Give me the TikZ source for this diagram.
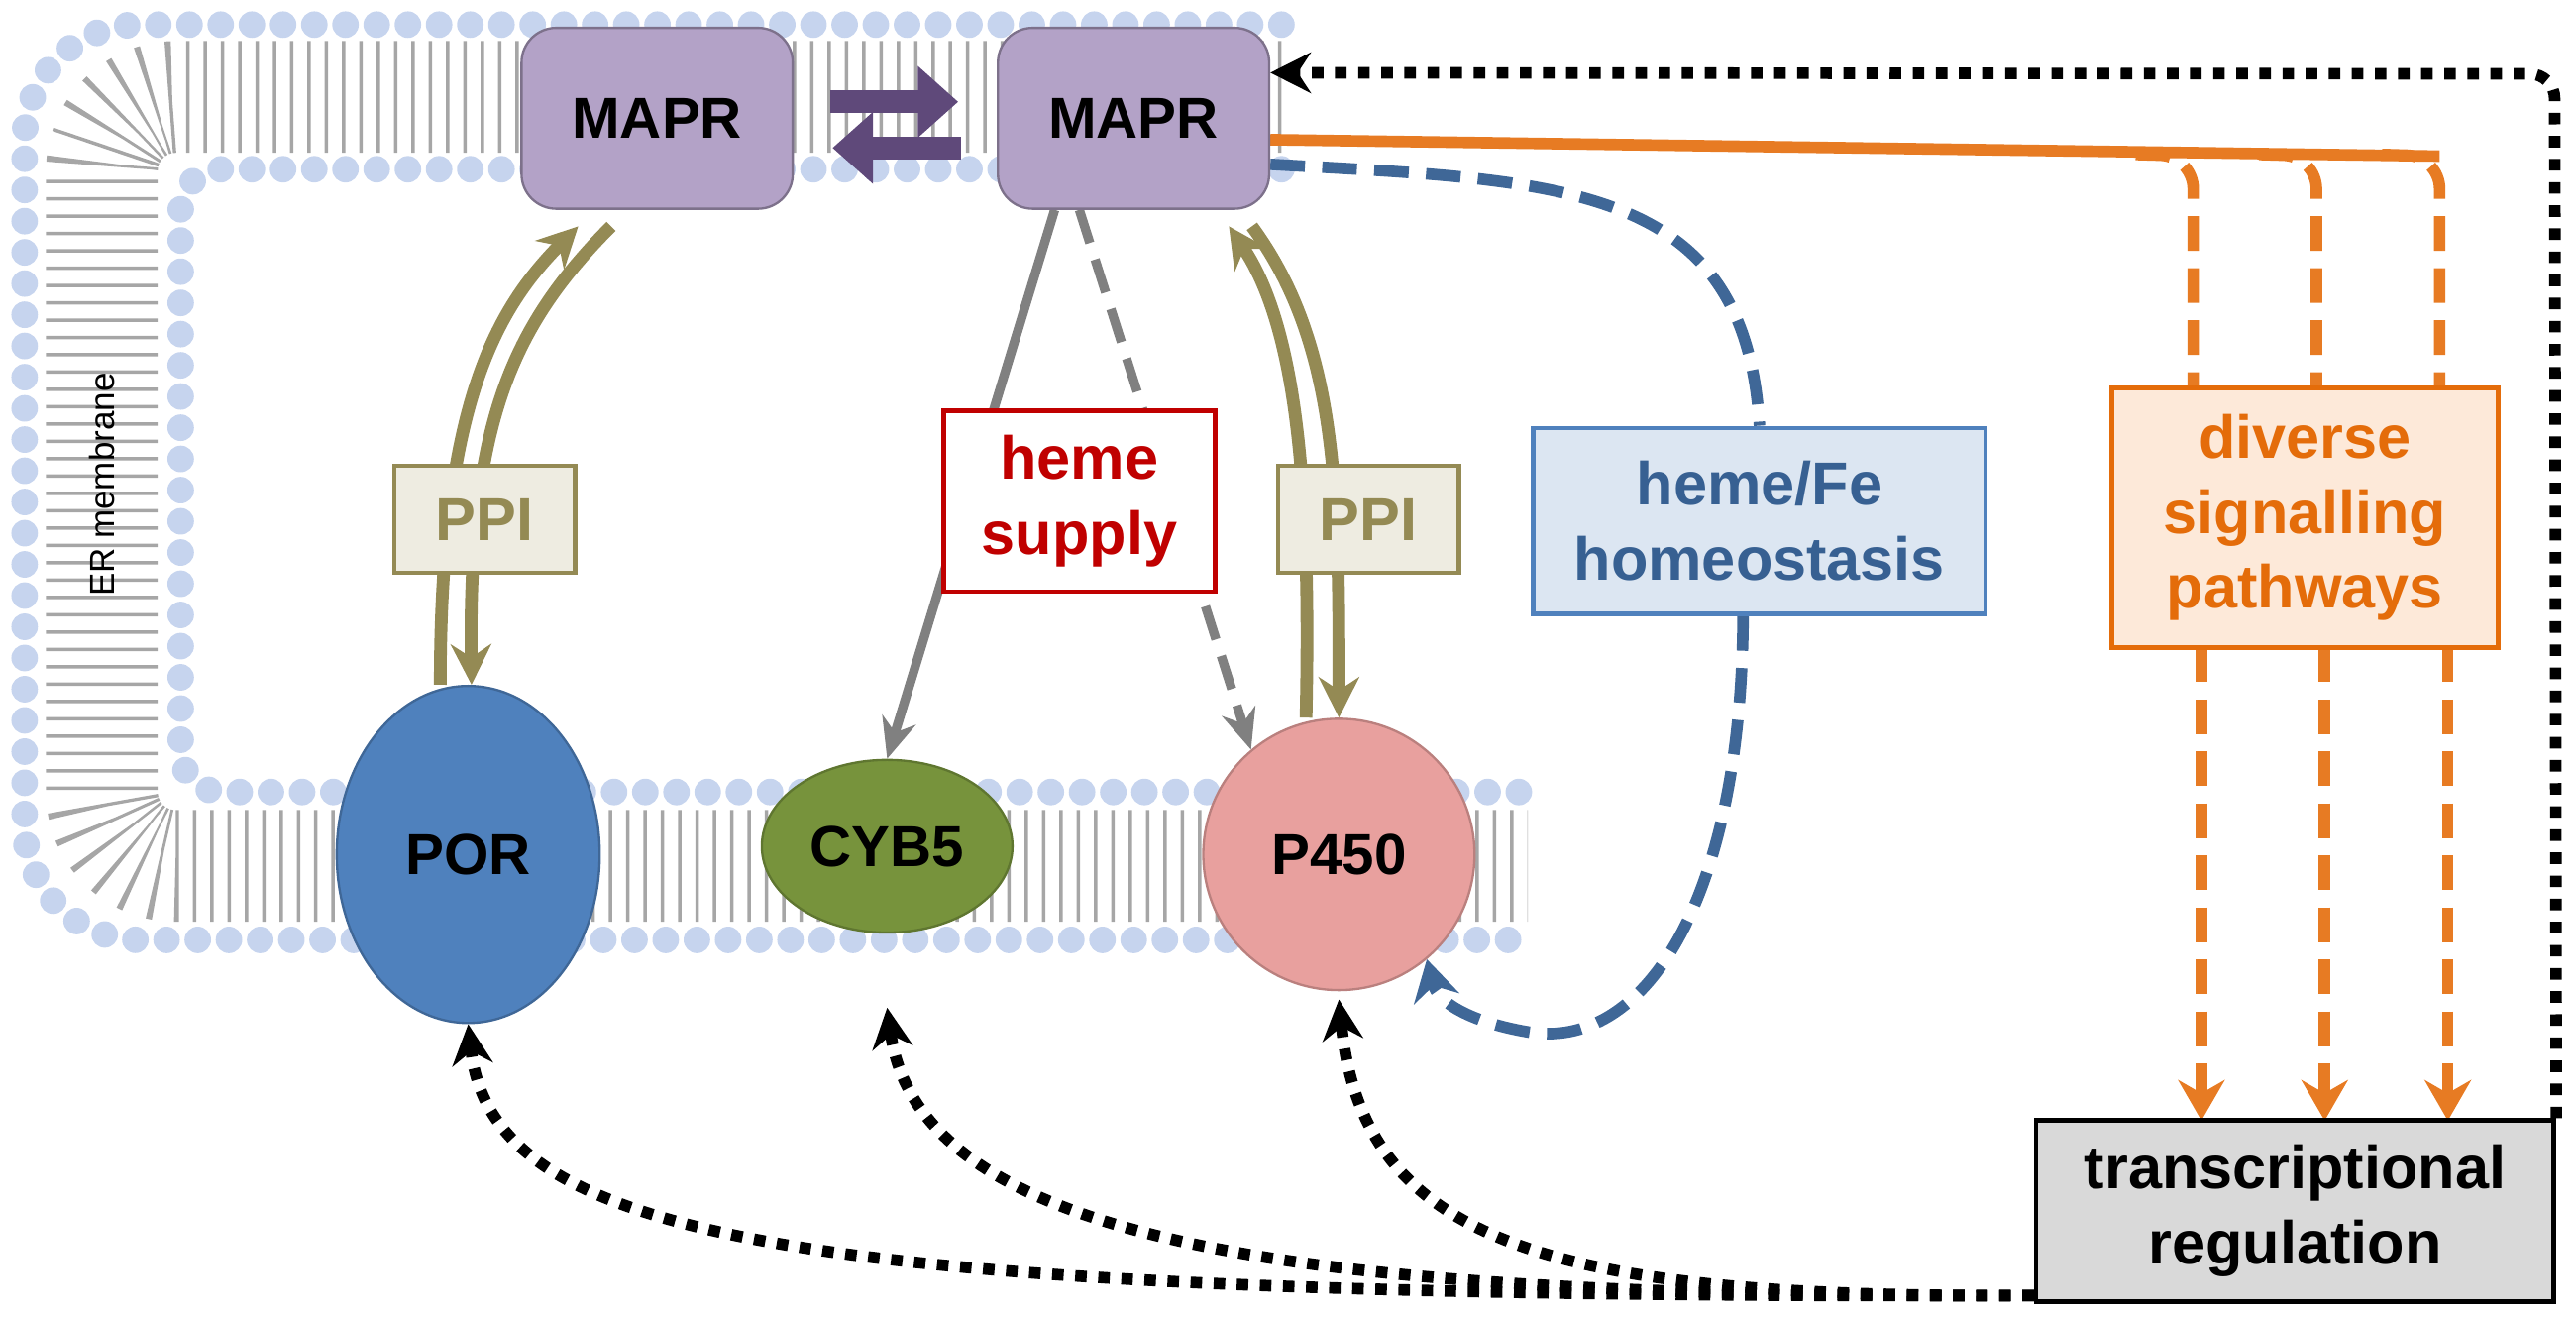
\documentclass[tikz,border=0pt]{standalone}
\usepackage{fontspec}
\setsansfont{Liberation Sans}
\usetikzlibrary{shapes.geometric,arrows.meta}
\definecolor{mapr}{HTML}{B3A2C7}
\definecolor{maprd}{HTML}{5F497A}
\definecolor{ppic}{HTML}{948A54}
\definecolor{ppif}{HTML}{EEECE1}
\definecolor{hemer}{HTML}{C00000}
\definecolor{homeb}{HTML}{4F81BD}
\definecolor{homet}{HTML}{376092}
\definecolor{homef}{HTML}{DCE6F2}
\definecolor{sig}{HTML}{E46C0A}
\definecolor{sigf}{HTML}{FDE9D9}
\definecolor{head}{HTML}{C6D4EE}
\definecolor{cybc}{HTML}{77933C}
\definecolor{p450c}{HTML}{E8A09E}
\pgfdeclarelayer{mem}
\pgfdeclarelayer{bg}
\pgfsetlayers{mem,bg,main}
\begin{document}
\begin{tikzpicture}[x=0.01cm,y=-0.01cm,
   font=\sffamily\bfseries,
   prot/.style={draw=#1!70!black,fill=#1,rounded corners=6pt,minimum width=1.65cm,minimum height=1.1cm,font=\sffamily\bfseries\fontsize{10}{12}\selectfont},
   blob/.style={ellipse,fill=#1,draw=#1!80!black,font=\sffamily\bfseries\fontsize{10}{12}\selectfont},
   box/.style={draw=#1,thick,align=center,font=\sffamily\bfseries\fontsize{10.5}{13}\selectfont},
   ppibox/.style={box=ppic,fill=ppif,text=ppic,minimum width=1.1cm,minimum height=0.65cm},
   ppiline/.style={line width=2.2pt,draw=ppic,-{Stealth[length=7pt,width=7pt]}},
   greyline/.style={line width=1.6pt,draw=gray,-{Stealth[length=7pt,width=6pt]}},
   blueline/.style={line width=2pt,draw=homeb!80!black,dash pattern=on 6pt off 3pt},
   orangeline/.style={line width=2pt,draw=sig!90!white,dash pattern=on 6pt off 3pt},
   dotline/.style={line width=2pt,draw=black,dash pattern=on 2pt off 2pt,-{Stealth[length=7pt,width=7pt]}},
   every node/.style={inner sep=2pt}]
\useasboundingbox (0,0) rectangle (1568,801);
% ER membrane
\begin{pgfonlayer}{mem}
\draw[gray!70,line width=0.68cm,dash pattern=on 0.6pt off 2.4pt,rounded corners=0.45cm]
  (780,59) -- (62,59) -- (62,527) -- (930,527);
\draw[head,line width=4.6pt,line cap=round,dash pattern=on 0pt off 5.4pt,rounded corners=0.7cm]
  (780,15) -- (15,15) -- (15,572) -- (930,572);
\draw[head,line width=4.6pt,line cap=round,dash pattern=on 0pt off 5.4pt,rounded corners=0.25cm]
  (780,103) -- (110,103) -- (110,482) -- (930,482);
\end{pgfonlayer}
\node[rotate=90,font=\sffamily\fontsize{6}{7}\selectfont] (er) at (62,295) {ER membrane};
% proteins
\node[prot=mapr] (MAPRa) at (400,72) {MAPR};
\node[prot=mapr] (MAPRb) at (690,72) {MAPR};
\node[blob=homeb,minimum width=1.6cm,minimum height=2.05cm] (POR) at (285,520) {POR};
\node[blob=cybc,minimum width=1.45cm,minimum height=1.05cm] (CYB5) at (540,515) {CYB5};
\node[blob=p450c,minimum width=1.65cm,minimum height=1.65cm] (P450) at (815,520) {P450};
% boxes
\node[ppibox] (PPIa) at (295,316) {PPI};
\node[ppibox] (PPIb) at (833,316) {PPI};
\node[box=hemer,fill=white,text=hemer,minimum width=1.65cm,minimum height=1.1cm] (heme) at (657,305) {heme\\supply};
\node[box=homeb,fill=homef,text=homet,minimum width=2.75cm,minimum height=1.13cm] (homeo) at (1071,317) {heme/Fe\\homeostasis};
\node[box=sig,fill=sigf,text=sig,minimum width=2.35cm,minimum height=1.58cm] (signal) at (1403,315) {diverse\\signalling\\pathways};
\node[box=black,fill=gray!30,text=black,minimum width=3.15cm,minimum height=1.1cm] (trans) at (1397,737) {transcriptional\\regulation};
% MAPR exchange
\draw[maprd,line width=4pt,-{Triangle[length=7pt,width=12pt]}] ([yshift=0.1cm]MAPRa.east) ++(22,0) -- ++(78,0);
\draw[maprd,line width=4pt,-{Triangle[length=7pt,width=12pt]}] ([yshift=-0.18cm]MAPRb.west) ++(-22,0) -- ++(-78,0);
\begin{pgfonlayer}{bg}
% PPI
\draw[ppiline] ([xshift=-0.17cm]POR.north) .. controls (268,250) and (300,190) .. ([xshift=-0.48cm,yshift=-0.1cm]MAPRa.south);
\draw[ppiline] ([xshift=-0.28cm,yshift=-0.1cm]MAPRa.south) .. controls (310,200) and (285,260) .. ([xshift=0.02cm]POR.north);
\draw[ppiline] ([xshift=-0.2cm]P450.north) .. controls (798,300) and (790,200) .. ([xshift=0.58cm,yshift=-0.1cm]MAPRb.south);
\draw[ppiline] ([xshift=0.72cm,yshift=-0.1cm]MAPRb.south) .. controls (815,210) and (815,300) .. (P450.north);
% heme supply
\draw[greyline] ([xshift=-0.48cm]MAPRb.south) -- (CYB5.north);
\draw[greyline,dash pattern=on 6pt off 3pt] ([xshift=-0.33cm]MAPRb.south) -- (P450.130);
% homeostasis
\draw[blueline] ([yshift=-0.28cm]MAPRb.east) .. controls (950,110) and (1062,110) .. (homeo.north);
\draw[blueline,-{Stealth[length=7pt,width=8pt]}] ([xshift=-0.1cm]homeo.south) .. controls (1060,550) and (1000,640) .. (930,628) .. controls (895,622) and (875,610) .. (P450.-50);
% signalling
\draw[orangeline,solid] ([yshift=-0.13cm]MAPRb.east) -- (1485,95);
\foreach \x in {1335,1410,1485}
  \draw[orangeline,rounded corners=0.2cm] (\x-35,94) -- (\x,95) -- (\x,236);
\foreach \x in {1340,1415,1490}
  \draw[orangeline,-{Stealth[length=7pt,width=8pt]}] (\x,394) -- (\x,682);
% transcription
\draw[dotline,rounded corners=0.15cm] (trans.north east) -- (1555,45) -- ([yshift=-0.28cm]MAPRb.north east);
\draw[dotline] ([yshift=0.05cm]trans.south west) .. controls (500,790) and (300,760) .. (POR.south);
\draw[dotline] ([yshift=0.05cm]trans.south west) .. controls (800,790) and (560,760) .. ([yshift=-0.45cm]CYB5.south);
\draw[dotline] ([yshift=0.05cm]trans.south west) .. controls (950,790) and (830,760) .. ([yshift=-0.05cm]P450.south);
\end{pgfonlayer}
\end{tikzpicture}
\end{document}
